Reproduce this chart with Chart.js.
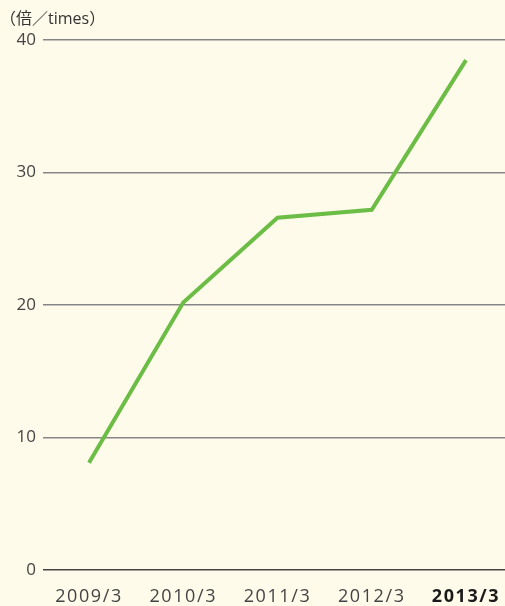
<!DOCTYPE html>
<html lang="ja">
  <head>
    <meta charset="UTF-8" />
    <title>Chart</title>
    <script src="https://cdn.jsdelivr.net/npm/chart.js"></script>
    <style>
      body { margin: 0; background: #fefbea; }
      #wrap { width: 505px; height: 606px; }
    </style>
  </head>
  <body>
    <div id="wrap"><canvas id="chart"></canvas></div>
    <script>
      // data
      const categories = ['2009/3', '2010/3', '2011/3', '2012/3', '2013/3'];
      const values = [8.1, 20.2, 26.6, 27.2, 38.5];
      const yTicks = [0, 10, 20, 30, 40];
      const unitLabel = '（倍／times）';

      const points = values.map((v, i) => ({ x: i, y: v }));
      const fontFamily = "'Open Sans', 'Noto Sans CJK JP', sans-serif";
      const last = categories.length - 1;

      // the year labels are set a little wider than the font's default spacing
      function spacedLabels(scale) {
        if (scale._spaced) return;
        scale._spaced = true;
        const orig = scale.drawLabels;
        scale.drawLabels = function (area) {
          const ctx = this.ctx;
          ctx.save();
          ctx.letterSpacing = '1.6px';
          orig.call(this, area);
          ctx.restore();
        };
      }

      new Chart(document.getElementById('chart'), {
        type: 'line',
        data: {
          datasets: [{
            data: points,
            borderColor: '#6cbd45',
            borderWidth: 4,
            pointRadius: 0,
            tension: 0,
            fill: false
          }]
        },
        options: {
          responsive: true,
          maintainAspectRatio: false,
          animation: false,
          layout: { padding: { left: 0, right: 0, top: 10, bottom: 0 } },
          plugins: {
            legend: { display: false },
            tooltip: { enabled: false },
            title: {
              display: true,
              text: unitLabel,
              align: 'start',
              color: '#333',
              font: { family: fontFamily, size: 16, weight: 'normal' },
              padding: { top: 0, bottom: 11 }
            }
          },
          scales: {
            x: {
              type: 'linear',
              min: -0.488,
              max: 4.414,
              afterBuildTicks: (scale) => {
                scale.ticks = categories.map((c, i) => ({ value: i }));
              },
              afterFit: (scale) => {
                scale.height = 36;
                scale.paddingLeft = 0;
                scale.paddingRight = 0;
              },
              afterUpdate: spacedLabels,
              grid: { display: false },
              border: { display: false },
              ticks: {
                autoSkip: false,
                maxRotation: 0,
                padding: 8,
                color: (ctx) => ctx.index === last ? '#1a1a1a' : '#444',
                font: (ctx) => ({
                  family: fontFamily,
                  size: 18,
                  weight: ctx.index === last ? 'bold' : 'normal'
                }),
                callback: (v) => categories[v]
              }
            },
            y: {
              min: 0,
              max: 40,
              afterBuildTicks: (scale) => {
                scale.ticks = yTicks.map(v => ({ value: v }));
              },
              afterFit: (scale) => { scale.width = 43; },
              grid: {
                drawTicks: false,
                color: (ctx) => ctx.tick && ctx.tick.value === 0 ? '#444' : '#858585',
                lineWidth: 1.5
              },
              border: { display: false },
              ticks: {
                padding: 7,
                color: '#444',
                font: { family: fontFamily, size: 17 }
              }
            }
          }
        }
      });
    </script>
  </body>
</html>
